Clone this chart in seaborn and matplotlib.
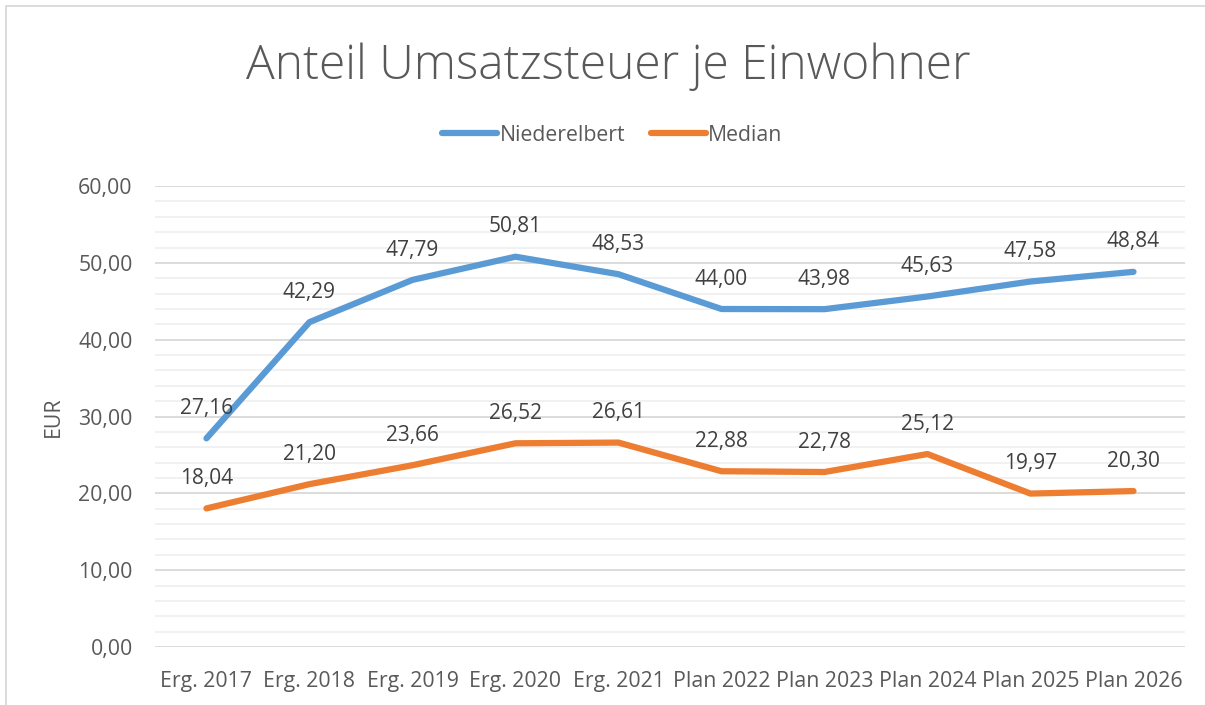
import matplotlib
matplotlib.use("Agg")
import matplotlib.pyplot as plt
import seaborn as sns
import pandas as pd
from matplotlib.ticker import MultipleLocator, FuncFormatter
from matplotlib.patches import Rectangle
from matplotlib.lines import Line2D

categories = ["Erg. 2017", "Erg. 2018", "Erg. 2019", "Erg. 2020", "Erg. 2021",
              "Plan 2022", "Plan 2023", "Plan 2024", "Plan 2025", "Plan 2026"]
niederelbert = [27.16, 42.29, 47.79, 50.81, 48.53, 44.00, 43.98, 45.63, 47.58, 48.84]
median = [18.04, 21.20, 23.66, 26.52, 26.61, 22.88, 22.78, 25.12, 19.97, 20.30]

df = pd.DataFrame({"Kategorie": categories * 2,
                   "Wert": niederelbert + median,
                   "Reihe": ["Niederelbert"] * 10 + ["Median"] * 10})

sns.set_style("white")
plt.rcParams['font.family'] = ['Open Sans', 'DejaVu Sans']
grey = "#595959"
colors = {"Niederelbert": "#5B9BD5", "Median": "#ED7D31"}

fig = plt.figure(figsize=(12.05, 7.05), dpi=100)
ax = fig.add_axes([0.1286, 0.0823, 0.8548, 0.6537])

sns.lineplot(data=df, x="Kategorie", y="Wert", hue="Reihe", palette=colors,
             linewidth=4.5, sort=False, ax=ax, legend=False,
             solid_capstyle="round", solid_joinstyle="round")

# Datenbeschriftungen
for series, vals in [("Niederelbert", niederelbert), ("Median", median)]:
    for i, v in enumerate(vals):
        ax.annotate(f"{v:.2f}".replace(".", ","), (i, v), xytext=(0, 21.5),
                    textcoords="offset points", ha="center", va="center",
                    fontsize=15, color="#404040")

ax.set_xlim(-0.5, len(categories) - 0.5)
ax.set_ylim(0, 60)
ax.yaxis.set_major_locator(MultipleLocator(10))
ax.yaxis.set_minor_locator(MultipleLocator(2))
ax.yaxis.set_major_formatter(FuncFormatter(lambda v, p: f"{v:.2f}".replace(".", ",")))
ax.grid(axis="y", which="major", color="#D9D9D9", linewidth=1.3)
ax.grid(axis="y", which="minor", color="#F0F0F0", linewidth=1.3)
ax.set_axisbelow(True)
for s in ax.spines.values():
    s.set_visible(False)
ax.tick_params(axis="both", which="both", length=0, labelsize=15.3, labelcolor=grey)
ax.tick_params(axis="y", pad=16)
ax.tick_params(axis="x", pad=17)
ax.set_xlabel("")
ax.set_ylabel("EUR", fontsize=15.3, color=grey, labelpad=10)

fig.text(0.505, 0.905, "Anteil Umsatzsteuer je Einwohner", ha="center", va="center",
         fontsize=34.5, color=grey, fontweight="light")

handles = [Line2D([], [], color=colors[k], linewidth=4.5, solid_capstyle="round") for k in colors]
fig.legend(handles, list(colors), loc="center", bbox_to_anchor=(0.508, 0.8085), ncol=2,
           frameon=False, fontsize=15.3, labelcolor=grey, handlelength=2.6,
           handletextpad=0.1, columnspacing=1.2)

fig.patches.append(Rectangle((6 / 1205, -0.1), 1.2, (705 - 6) / 705 + 0.1,
                             transform=fig.transFigure, fill=False,
                             edgecolor="#D9D9D9", linewidth=1.3))

fig.savefig("out.png", dpi=100)
